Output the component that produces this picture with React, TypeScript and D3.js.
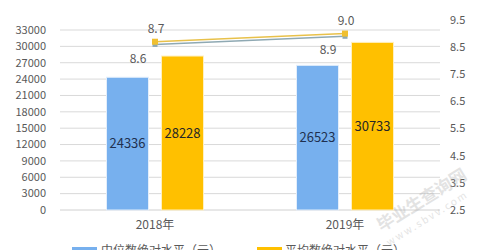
import React from "react";
import * as d3 from "d3";

const categories = ["2018年", "2019年"];
const medianAbs = [24336, 26523];
const meanAbs = [28228, 30733];
const lineA = [8.7, 9.0]; // yellow line
const lineB = [8.6, 8.9]; // grey line
const leftTicks = [0, 3000, 6000, 9000, 12000, 15000, 18000, 21000, 24000, 27000, 30000, 33000];
const rightTicks = [2.5, 3.5, 4.5, 5.5, 6.5, 7.5, 8.5, 9.5];
const legendLabels = ["中位数绝对水平（元）", "平均数绝对水平（元）"];

const W = 481, H = 250;
const FONT = "'Noto Sans CJK SC', 'Noto Sans', sans-serif";

export default function App() {
  const x = d3.scaleBand<string>().domain(categories).range([60, 440]);
  const y = d3.scaleLinear().domain([0, 33000]).range([210, 30]);
  const yR = d3.scaleLinear().domain([2.5, 9.5]).range([210, 20]);
  const barW = 42, gap = 13;
  const cx = (c: string) => (x(c) as number) + x.bandwidth() / 2;
  const line = d3.line<[number, number]>().x(d => d[0]).y(d => d[1]);
  const ptsA = categories.map((c, i) => [cx(c), yR(lineA[i])] as [number, number]);
  const ptsB = categories.map((c, i) => [cx(c), yR(lineB[i])] as [number, number]);

  return (
    <svg width={W} height={H} style={{ position: "absolute", left: 0, top: 0, background: "#fff" }} fontFamily={FONT}>
      <rect width={W} height={H} fill="#fff" />
      {leftTicks.map(t => (
        <g key={t}>
          {t > 0 && <line x1={60} x2={440} y1={y(t)} y2={y(t)} stroke="#d9d9d9" strokeWidth={1} />}
          <text x={46} y={y(t)} dy="0.35em" textAnchor="end" fontSize={11} fill="#595959">{t}</text>
        </g>
      ))}
      <line x1={60} x2={440} y1={210} y2={210} stroke="#d0d0d0" strokeWidth={1} />
      {rightTicks.map(t => (
        <text key={t} x={450} y={yR(t)} dy="0.35em" textAnchor="start" fontSize={11} fill="#595959">{t.toFixed(1)}</text>
      ))}
      {categories.map((c, i) => {
        const c0 = cx(c);
        const bx = c0 - gap / 2 - barW;
        const ox = c0 + gap / 2;
        return (
          <g key={c}>
            <rect x={bx} y={y(medianAbs[i])} width={barW} height={210 - y(medianAbs[i])} fill="#77b0ee" stroke="#e3eefb" strokeWidth={1} />
            <rect x={ox} y={y(meanAbs[i])} width={barW} height={210 - y(meanAbs[i])} fill="#ffc000" stroke="#fff0c0" strokeWidth={1} />
            <text x={bx + barW / 2} y={(y(medianAbs[i]) + 210) / 2} dy="0.35em" textAnchor="middle" fontSize={13} fill="#1f3050">{medianAbs[i]}</text>
            <text x={ox + barW / 2} y={(y(meanAbs[i]) + 210) / 2} dy="0.35em" textAnchor="middle" fontSize={13} fill="#262626">{meanAbs[i]}</text>
            <text x={c0} y={225} dy="0.35em" textAnchor="middle" fontSize={12} fill="#595959">{c}</text>
          </g>
        );
      })}
      <path d={line(ptsB) as string} fill="none" stroke="#8fa9b3" strokeWidth={1.5} />
      <path d={line(ptsA) as string} fill="none" stroke="#e8c14a" strokeWidth={1.5} />
      {ptsB.map((p, i) => (
        <rect key={"b" + i} x={p[0] - 2.5} y={p[1] - 2.5} width={5} height={5} fill="#8fa9b3" />
      ))}
      {ptsA.map((p, i) => (
        <rect key={"a" + i} x={p[0] - 3} y={p[1] - 3} width={6} height={6} fill="#f0c030" />
      ))}
      {ptsA.map((p, i) => (
        <text key={"la" + i} x={p[0] + 1} y={p[1] - 13} dy="0.35em" textAnchor="middle" fontSize={12} fill="#595959">{lineA[i].toFixed(1)}</text>
      ))}
      {ptsB.map((p, i) => (
        <text key={"lb" + i} x={p[0] - 17} y={p[1] + 14} dy="0.35em" textAnchor="middle" fontSize={12} fill="#595959">{lineB[i].toFixed(1)}</text>
      ))}
      <rect x={72} y={247} width={25} height={8} fill="#77b0ee" />
      <text x={101} y={255} fontSize={12} fill="#595959">{legendLabels[0]}</text>
      <rect x={257} y={247} width={25} height={8} fill="#ffc000" />
      <text x={285} y={255} fontSize={12} fill="#595959">{legendLabels[1]}</text>
      <g transform="translate(425,205) rotate(-32)" opacity={0.35}>
        <text x={0} y={0} textAnchor="middle" fontSize={17} fontWeight="bold" fill="#b0b0b0">毕业生查询网</text>
        <text x={-5} y={16} textAnchor="middle" fontSize={10} fill="#b0b0b0" letterSpacing={2}>www.sbvv.com</text>
      </g>
    </svg>
  );
}
